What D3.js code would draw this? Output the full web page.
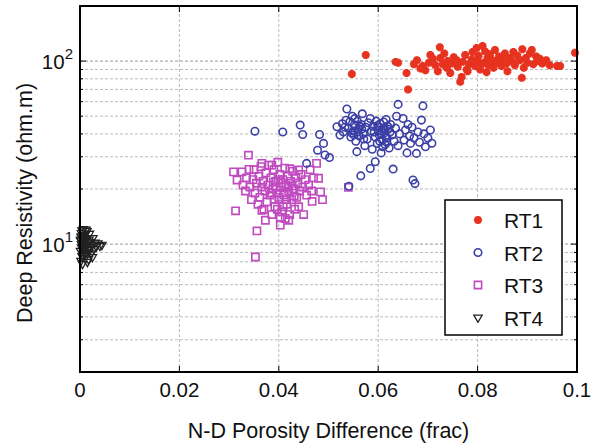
<!DOCTYPE html>
<html>
<head>
<meta charset="utf-8">
<script src="https://cdn.jsdelivr.net/npm/d3@7"></script>
<style>
  body { margin: 0; background: #fff; }
  svg { display: block; font-family: "Liberation Sans", Arial, Helvetica, sans-serif; }
</style>
</head>
<body>
<svg id="chart" width="595" height="445"></svg>
<script>
// series data: [N-D porosity difference, deep resistivity]
const rt1 = [
  [0.0547, 85], [0.0575, 108], [0.0635, 99], [0.064, 98], [0.0657, 86], [0.066, 70], [0.0672, 96], [0.0678, 101],
  [0.0685, 91], [0.069, 94], [0.0695, 89], [0.0702, 98], [0.0705, 108], [0.071, 103], [0.0715, 95], [0.072, 88],
  [0.0724, 119], [0.0725, 104], [0.073, 96], [0.0733, 110], [0.0738, 92], [0.074, 100], [0.0745, 86], [0.0748, 97],
  [0.0752, 105], [0.0758, 101], [0.076, 93], [0.0765, 77], [0.0768, 82], [0.077, 99], [0.0775, 108], [0.0778, 90],
  [0.078, 88], [0.0783, 96], [0.0788, 102], [0.079, 112], [0.0795, 94], [0.0798, 118], [0.08, 100], [0.0802, 107],
  [0.0805, 90], [0.0808, 96], [0.081, 121], [0.0812, 98], [0.0815, 113], [0.0818, 87], [0.082, 104], [0.0822, 95],
  [0.0825, 109], [0.083, 101], [0.0832, 92], [0.0835, 115], [0.084, 98], [0.0843, 106], [0.0848, 94], [0.085, 103],
  [0.0855, 110], [0.0858, 97], [0.086, 88], [0.0865, 104], [0.087, 99], [0.0872, 112], [0.0875, 95], [0.088, 107],
  [0.0885, 101], [0.0889, 81], [0.089, 116], [0.0893, 92], [0.0897, 104], [0.09, 98], [0.0905, 110], [0.0909, 115],
  [0.0912, 96], [0.0918, 106], [0.092, 100], [0.0925, 103], [0.093, 97], [0.0938, 101], [0.0945, 95], [0.096, 94],
  [0.0966, 94], [0.0996, 111]
];
const rt2 = [
  [0.0352, 41.4], [0.0408, 41], [0.0443, 44.7], [0.0448, 39.7], [0.0456, 27.6], [0.0478, 32.6], [0.0482, 39.7],
  [0.049, 35.5], [0.0493, 30.7], [0.0502, 29.7], [0.0541, 20.7],
  [0.0517, 43.8], [0.0523, 39.4], [0.0528, 45.5], [0.053, 41], [0.0533, 43.5], [0.0535, 47.5], [0.0537, 54.7],
  [0.054, 43], [0.0543, 46.6], [0.0545, 38.5], [0.0547, 40.5], [0.0548, 50], [0.055, 41.5], [0.0552, 44.8],
  [0.0553, 48.5], [0.0555, 36.5], [0.0557, 32], [0.0558, 47], [0.056, 42.5], [0.0562, 39], [0.0563, 44],
  [0.0565, 23.6], [0.0566, 45], [0.0568, 51.5], [0.057, 40], [0.0571, 37.5], [0.0573, 34.5], [0.0575, 43.5],
  [0.0578, 37.5], [0.058, 46], [0.0584, 48.6], [0.0584, 25.9], [0.0586, 41.5], [0.0588, 33], [0.059, 44],
  [0.0592, 41], [0.0594, 28.2], [0.0594, 38.5], [0.0596, 47], [0.0598, 35.5], [0.0599, 44.5], [0.06, 42],
  [0.0602, 39.5], [0.0603, 36.5], [0.0604, 45.5], [0.0606, 31.5], [0.0607, 41.5], [0.0608, 37], [0.0609, 34],
  [0.061, 43], [0.0611, 46.5], [0.0612, 40.5], [0.0614, 35], [0.0615, 38.5], [0.0616, 48], [0.0618, 38],
  [0.0619, 44], [0.062, 42.5], [0.0622, 33.5], [0.0624, 41], [0.0625, 45], [0.0628, 39.5], [0.063, 25.7],
  [0.0632, 36.5], [0.0635, 43], [0.0637, 50], [0.064, 58], [0.064, 34.5], [0.0643, 40],
  [0.065, 48.6], [0.0652, 37], [0.0655, 42], [0.0658, 31.5], [0.066, 45], [0.0663, 39], [0.0665, 35.5],
  [0.0668, 43.5], [0.067, 22.4], [0.0672, 38], [0.0674, 21.4], [0.0677, 31.3], [0.068, 41], [0.0683, 36],
  [0.0687, 47.6], [0.069, 56.9], [0.0692, 40], [0.0695, 34], [0.07, 38], [0.0705, 42], [0.0708, 35.6],
  [0.0551, 39.5], [0.0559, 41], [0.0567, 42.5], [0.0601, 43.5], [0.0605, 40], [0.0613, 42], [0.0617, 36]
];
const rt3 = [
  [0.0309, 24.8], [0.0313, 15.2], [0.0316, 22.4], [0.0326, 24.8], [0.034, 25.6], [0.0339, 30.6], [0.0353, 8.5],
  [0.0356, 11.8], [0.0366, 15.3], [0.0373, 13.5], [0.0403, 12.7], [0.042, 13.5], [0.044, 25.4], [0.0467, 17.1],
  [0.0476, 27.6], [0.048, 22.9], [0.0484, 19.3], [0.0488, 17.5], [0.054, 20.4],
  [0.0366, 27.6], [0.0386, 27], [0.0422, 25.8],
  [0.0328, 21], [0.0333, 19.5], [0.0335, 23], [0.0342, 20.5], [0.0345, 17.5], [0.0348, 22.5], [0.035, 25.5],
  [0.0352, 19], [0.0355, 21.5], [0.0358, 16.5], [0.036, 23.5], [0.0362, 18], [0.0364, 26.5], [0.0366, 20.5],
  [0.0368, 22], [0.037, 15.5], [0.0372, 19.5], [0.0374, 24.5], [0.0376, 17], [0.0378, 21], [0.038, 27],
  [0.0382, 18.5], [0.0384, 23], [0.0386, 14.5], [0.0388, 20], [0.039, 25.5], [0.0392, 16], [0.0394, 22],
  [0.0396, 19], [0.0398, 28], [0.04, 17.5], [0.0402, 24], [0.0404, 20.5], [0.0406, 15], [0.0408, 22.5],
  [0.041, 18.5], [0.0412, 26], [0.0414, 21], [0.0416, 16.5], [0.0418, 23.5], [0.042, 19.5], [0.0422, 14.5],
  [0.0424, 22], [0.0426, 17.5], [0.0428, 25], [0.043, 20], [0.0432, 15.5], [0.0434, 23], [0.0436, 18],
  [0.0438, 21.5], [0.044, 16], [0.0442, 19.5], [0.0445, 24], [0.0448, 20.5], [0.045, 14.5], [0.0453, 22.5],
  [0.0456, 18.5], [0.046, 21], [0.0463, 25.5], [0.0466, 19.5], [0.047, 23],
  [0.0385, 19], [0.0395, 20.5], [0.0401, 18], [0.0405, 21.5], [0.0411, 19], [0.0415, 17.5], [0.0419, 20.5],
  [0.0399, 22.5], [0.0391, 17.5], [0.0409, 16], [0.0403, 14], [0.0397, 15.5], [0.0413, 13.8], [0.0389, 21.8],
  [0.0427, 20.8], [0.0431, 18.3]
];
const rt4 = [
  [0.0001, 9.2], [0.0002, 10.4], [0.0003, 11.5], [0.0004, 8.6], [0.0005, 9.8], [0.0006, 10.9], [0.0007, 12.1],
  [0.0008, 9.4], [0.0009, 10.2], [0.001, 11.2], [0.0011, 8.9], [0.0012, 9.9], [0.0013, 10.7], [0.0014, 11.8],
  [0.0015, 9.3], [0.0016, 10.1], [0.0017, 8.3], [0.0018, 10.6], [0.0019, 11.4], [0.002, 9.6], [0.0021, 10.3],
  [0.0022, 8.9], [0.0024, 9.9], [0.0026, 10.8], [0.0028, 9.4], [0.003, 10.2], [0.0033, 9.7], [0.0036, 10.1],
  [0.004, 9.8], [0.0044, 9.9], [0.0002, 8.1], [0.0005, 7.8], [0.001, 8.4], [0.0003, 10], [0.0006, 9.5],
  [0.0008, 10.8], [0.0004, 11.9], [0.0012, 12], [0.0001, 10.6], [0.0007, 9], [0.0015, 8], [0.0025, 8.5],
  [0.0018, 9.1], [0.0003, 9.6], [0.0009, 9.7], [0.0011, 10.4], [0.0005, 11.1], [0.0014, 9.0], [0.0002, 11.0]
];

const seriesNames = ['RT1', 'RT2', 'RT3', 'RT4'];
const xTicks = [0, 0.02, 0.04, 0.06, 0.08, 0.1];
const yLabelTicks = [10, 100];
const xDomain = [0, 0.1];
const yDomain = [2, 200];

(function () {
    const width = 595;
    const height = 445;
    const margin = { top: 6, right: 18, bottom: 73, left: 80 };
    const svg = d3.select('#chart');

    const x = d3.scaleLinear().domain(xDomain).range([margin.left, width - margin.right]);
    const y = d3.scaleLog().domain(yDomain).range([height - margin.bottom, margin.top]);

    const x0 = x.range()[0], x1 = x.range()[1];
    const y0 = y.range()[0], y1 = y.range()[1];

    // grid
    const grid = svg.append('g').attr('class', 'grid');
    const yGrid = y.ticks().filter(v => v > yDomain[0] && v < yDomain[1]);
    grid.selectAll('line.h')
        .data(yGrid)
        .enter().append('line')
        .attr('x1', x0).attr('x2', x1)
        .attr('y1', d => y(d)).attr('y2', d => y(d))
        .attr('stroke', d => yLabelTicks.includes(d) ? '#999' : '#bbb')
        .attr('stroke-width', 1)
        .attr('stroke-dasharray', '3,2');
    grid.selectAll('line.v')
        .data(xTicks.slice(1, -1))
        .enter().append('line')
        .attr('x1', d => x(d)).attr('x2', d => x(d))
        .attr('y1', y0).attr('y2', y1)
        .attr('stroke', '#bbb')
        .attr('stroke-width', 1)
        .attr('stroke-dasharray', '3,2');

    // ticks (inside, on all four sides)
    const ticks = svg.append('g').attr('stroke', '#000').attr('stroke-width', 1);
    y.ticks().forEach(v => {
        const len = yLabelTicks.includes(v) ? 6 : 3;
        ticks.append('line').attr('x1', x0).attr('x2', x0 + len).attr('y1', y(v)).attr('y2', y(v));
        ticks.append('line').attr('x1', x1).attr('x2', x1 - len).attr('y1', y(v)).attr('y2', y(v));
    });
    xTicks.forEach(v => {
        ticks.append('line').attr('x1', x(v)).attr('x2', x(v)).attr('y1', y0).attr('y2', y0 - 6);
        ticks.append('line').attr('x1', x(v)).attr('x2', x(v)).attr('y1', y1).attr('y2', y1 + 6);
    });

    // markers
    const colors = { RT1: '#e6321f', RT2: '#3b3fa6', RT3: '#c04ac0', RT4: '#222' };
    const marks = svg.append('g').attr('class', 'marks');

    function drawSeries(data, name) {
        const g = marks.append('g');
        const sel = g.selectAll('path').data(data).enter().append('path')
            .attr('transform', d => `translate(${x(d[0])},${y(d[1])})`);
        styleMarker(sel, name);
    }

    function styleMarker(sel, name) {
        const c = colors[name];
        if (name === 'RT1') {
            sel.attr('d', d3.symbol(d3.symbolAsterisk, 44)())
                .attr('fill', 'none').attr('stroke', c).attr('stroke-width', 3.4);
        } else if (name === 'RT2') {
            sel.attr('d', d3.symbol(d3.symbolCircle, 44)())
                .attr('fill', 'none').attr('stroke', c).attr('stroke-width', 1.6);
        } else if (name === 'RT3') {
            sel.attr('d', d3.symbol(d3.symbolSquare, 52)())
                .attr('fill', 'none').attr('stroke', c).attr('stroke-width', 1.6);
        } else {
            sel.attr('d', d3.symbol(d3.symbolTriangle, 30)())
                .attr('fill', 'none').attr('stroke', c).attr('stroke-width', 1.3);
            sel.attr('transform', function () {
                return d3.select(this).attr('transform') + ' rotate(180)';
            });
        }
    }

    drawSeries(rt4, 'RT4');
    drawSeries(rt3, 'RT3');
    drawSeries(rt2, 'RT2');
    drawSeries(rt1, 'RT1');

    // box
    svg.append('rect')
        .attr('x', x0).attr('y', y1)
        .attr('width', x1 - x0).attr('height', y0 - y1)
        .attr('fill', 'none').attr('stroke', '#000').attr('stroke-width', 2);

    // tick labels
    svg.append('g').selectAll('text')
        .data(xTicks)
        .enter().append('text')
        .attr('x', d => x(d))
        .attr('y', y0 + 25)
        .attr('text-anchor', 'middle')
        .attr('font-size', 20.5)
        .attr('fill', '#111')
        .text(d => d3.format('~g')(d));

    const yl = svg.append('g').selectAll('text')
        .data(yLabelTicks)
        .enter().append('text')
        .attr('x', x0 - 7)
        .attr('y', d => y(d) + 8)
        .attr('text-anchor', 'end')
        .attr('font-size', 20.5)
        .attr('fill', '#111');
    yl.append('tspan').text('10');
    yl.append('tspan').attr('dy', -10).attr('font-size', 15).text(d => String(Math.round(Math.log10(d))));

    // axis titles
    svg.append('text')
        .attr('x', (x0 + x1) / 2)
        .attr('y', 438)
        .attr('text-anchor', 'middle')
        .attr('font-size', 21.5)
        .attr('fill', '#111')
        .text('N-D Porosity Difference (frac)');
    svg.append('text')
        .attr('transform', `translate(32,203) rotate(-90)`)
        .attr('text-anchor', 'middle')
        .attr('font-size', 21.5)
        .attr('fill', '#111')
        .text('Deep Resistivity (ohm.m)');

    // legend
    const leg = svg.append('g').attr('transform', 'translate(445,200)');
    leg.append('rect')
        .attr('width', 117).attr('height', 135)
        .attr('fill', '#fff').attr('stroke', '#000').attr('stroke-width', 1.5);
    seriesNames.forEach((name, i) => {
        const yy = 20 + i * 32.5;
        const m = leg.append('path').attr('transform', `translate(33,${yy})`);
        styleMarker(m, name);
        leg.append('text')
            .attr('x', 59).attr('y', yy + 8)
            .attr('font-size', 21)
            .attr('fill', '#111')
            .text(name);
    });
})();
</script>
</body>
</html>
